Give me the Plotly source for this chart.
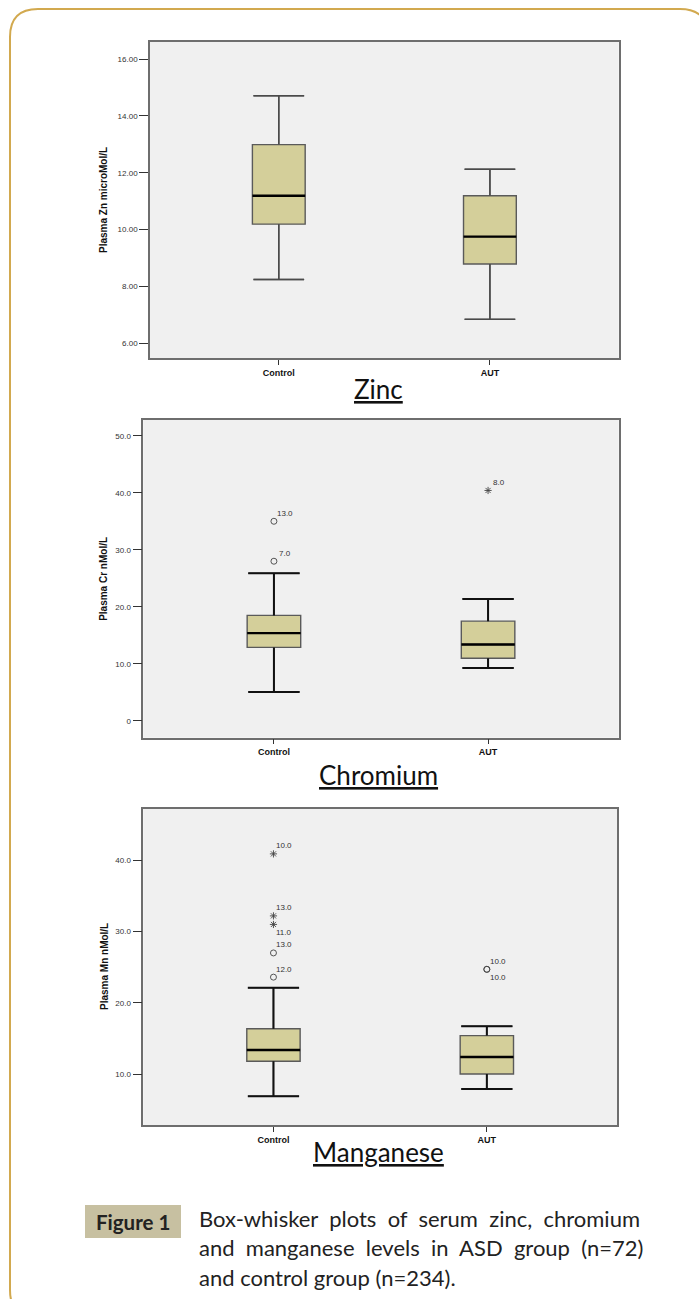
import plotly.graph_objects as go

W, H = 699, 1299

groups = ["Control", "AUT"]

# Zinc (microMol/L)
zn_q1 = [10.19, 8.79]
zn_median = [11.19, 9.75]
zn_q3 = [12.99, 11.19]
zn_low = [8.24, 6.84]
zn_high = [14.71, 12.12]
zn_ticks = [6, 8, 10, 12, 14, 16]
zn_ticktext = ["6.00", "8.00", "10.00", "12.00", "14.00", "16.00"]

# Chromium (nMol/L)
cr_q1 = [12.9, 11.0]
cr_median = [15.4, 13.4]
cr_q3 = [18.5, 17.5]
cr_low = [5.1, 9.3]
cr_high = [25.9, 21.4]
cr_out_group = ["Control", "Control", "AUT"]
cr_out_value = [35.0, 28.0, 40.4]
cr_out_label = ["13.0", "7.0", "8.0"]
cr_out_kind = ["circle", "circle", "star"]
cr_ticks = [0, 10, 20, 30, 40, 50]
cr_ticktext = ["0", "10.0", "20.0", "30.0", "40.0", "50.0"]

# Manganese (nMol/L)
mn_q1 = [11.8, 10.0]
mn_median = [13.37, 12.4]
mn_q3 = [16.35, 15.4]
mn_low = [6.9, 7.9]
mn_high = [22.1, 16.7]
mn_out_group = ["Control", "Control", "Control", "Control", "Control", "AUT", "AUT"]
mn_out_value = [40.9, 32.2, 31.0, 27.0, 23.6, 24.7, 24.7]
mn_out_label = ["10.0", "13.0", "11.0", "13.0", "12.0", "10.0", "10.0"]
mn_out_kind = ["star", "star", "star", "circle", "circle", "circle", "circle"]
mn_ticks = [10, 20, 30, 40]
mn_ticktext = ["10.0", "20.0", "30.0", "40.0"]

caption_label = "Figure 1"
caption_lines = ["Box-whisker plots of serum zinc, chromium",
                 "and manganese levels in ASD group (n=72)",
                 "and control group (n=234)."]

# ---------------- styling / layout ----------------
BOX_W = 0.25
CAP_W = 0.12
FILL = "#D4CF9A"
FRAME = "#6e6e6e"


def px_x(p):
    return p / W


def px_y(p):
    return 1 - p / H


panels = [
    dict(name="Zn", title="Plasma Zn microMol/L", label="Zinc",
         q1=zn_q1, med=zn_median, q3=zn_q3, lo=zn_low, hi=zn_high,
         og=[], ov=[], ol=[], ok=[], opos=[],
         ticks=zn_ticks, ticktext=zn_ticktext, yr=[5.48, 16.6],
         xd=[150, 618.7], yd=[42, 358], wcol="#4a4a4a", wwid=1.5,
         label_y=389),
    dict(name="Cr", title="Plasma Cr nMol/L", label="Chromium",
         q1=cr_q1, med=cr_median, q3=cr_q3, lo=cr_low, hi=cr_high,
         og=cr_out_group, ov=cr_out_value, ol=cr_out_label, ok=cr_out_kind,
         opos=["top", "top", "top"],
         ticks=cr_ticks, ticktext=cr_ticktext, yr=[-2.93, 52.75],
         xd=[143.3, 618.7], yd=[420, 737.7], wcol="#111111", wwid=2,
         label_y=775),
    dict(name="Mn", title="Plasma Mn nMol/L", label="Manganese",
         q1=mn_q1, med=mn_median, q3=mn_q3, lo=mn_low, hi=mn_high,
         og=mn_out_group, ov=mn_out_value, ol=mn_out_label, ok=mn_out_kind,
         opos=["top", "top", "bottom", "top", "top", "top", "bottom"],
         ticks=mn_ticks, ticktext=mn_ticktext, yr=[2.85, 47.2],
         xd=[143.3, 617], yd=[809, 1125], wcol="#111111", wwid=2,
         label_y=1152),
]

fig = go.Figure()
layout = dict(width=W, height=H, margin=dict(l=0, r=0, t=0, b=0),
              paper_bgcolor="white", plot_bgcolor="#F0F0F0", showlegend=False,
              font=dict(family="Liberation Sans, Arial, sans-serif", color="#222"))
annotations = []
shapes = []

for i, p in enumerate(panels, start=1):
    xa, ya = f"x{i}", f"y{i}"
    xs = list(range(len(groups)))
    fig.add_trace(go.Box(
        x=xs, q1=p["q1"], median=p["med"], q3=p["q3"],
        lowerfence=p["lo"], upperfence=p["hi"],
        width=BOX_W, whiskerwidth=2 * CAP_W / BOX_W, fillcolor=FILL,
        line=dict(color="#5a5a5a", width=1.4), boxpoints=False,
        xaxis=xa, yaxis=ya, hoverinfo="skip"))
    # whiskers overlay
    wx, wy = [], []
    for k in xs:
        wx += [k, k, None, k, k, None,
               k - CAP_W, k + CAP_W, None, k - CAP_W, k + CAP_W, None]
        wy += [p["q3"][k], p["hi"][k], None, p["q1"][k], p["lo"][k], None,
               p["hi"][k], p["hi"][k], None, p["lo"][k], p["lo"][k], None]
    fig.add_trace(go.Scatter(x=wx, y=wy, mode="lines",
                             line=dict(color=p["wcol"], width=p["wwid"]),
                             xaxis=xa, yaxis=ya, hoverinfo="skip"))
    # medians
    mx, my = [], []
    for k in xs:
        mx += [k - BOX_W / 2, k + BOX_W / 2, None]
        my += [p["med"][k], p["med"][k], None]
    fig.add_trace(go.Scatter(x=mx, y=my, mode="lines",
                             line=dict(color="#000000", width=2.4),
                             xaxis=xa, yaxis=ya, hoverinfo="skip"))
    # outliers
    for kind, sym, size in [("circle", "circle-open", 6), ("star", "asterisk-open", 6)]:
        idx = [j for j, kk in enumerate(p["ok"]) if kk == kind]
        if idx:
            fig.add_trace(go.Scatter(
                x=[groups.index(p["og"][j]) for j in idx],
                y=[p["ov"][j] for j in idx], mode="markers",
                marker=dict(symbol=sym, size=size, color="#444",
                            line=dict(width=0.9, color="#444")),
                xaxis=xa, yaxis=ya, hoverinfo="skip"))
    for g, v, lab, pos in zip(p["og"], p["ov"], p["ol"], p["opos"]):
        annotations.append(dict(
            x=groups.index(g), y=v, xref=xa, yref=ya, text=lab, showarrow=False,
            xshift=11, yshift=8 if pos == "top" else -8,
            font=dict(size=8, color="#333"), xanchor="center", yanchor="middle"))

    layout[f"xaxis{i}"] = dict(
        domain=[px_x(p["xd"][0]), px_x(p["xd"][1])], range=[-0.61, 1.61],
        anchor=ya, tickvals=xs, ticktext=[f"<b>{g}</b>" for g in groups],
        ticks="outside", ticklen=5, tickcolor="#333", tickwidth=1,
        tickfont=dict(size=9, color="#111"),
        showline=True, mirror=True, linecolor=FRAME, linewidth=1.5,
        showgrid=False, zeroline=False, fixedrange=True)
    layout[f"yaxis{i}"] = dict(
        domain=[px_y(p["yd"][1]), px_y(p["yd"][0])], range=p["yr"],
        anchor=xa, tickvals=p["ticks"], ticktext=p["ticktext"],
        ticks="outside", ticklen=9, tickcolor="#333", tickwidth=1,
        tickfont=dict(size=8, color="#333"),
        showline=True, mirror=True, linecolor=FRAME, linewidth=1.5,
        showgrid=False, zeroline=False, fixedrange=True)
    # y-axis title
    annotations.append(dict(
        x=px_x(104), y=px_y((p["yd"][0] + p["yd"][1]) / 2), xref="paper", yref="paper",
        text=f"<b>{p['title']}</b>", textangle=-90, showarrow=False,
        font=dict(size=10, color="#111"), xanchor="center", yanchor="middle"))
    # panel label
    annotations.append(dict(
        x=px_x(378), y=px_y(p["label_y"]), xref="paper", yref="paper",
        text=f"<u>{p['label']}</u>", showarrow=False,
        font=dict(family="Lato, sans-serif", size=26, color="#111"),
        xanchor="center", yanchor="middle"))

# caption
shapes.append(dict(type="rect", xref="paper", yref="paper",
                   x0=px_x(85), x1=px_x(181), y0=px_y(1238), y1=px_y(1205),
                   fillcolor="#C7C0A1", line=dict(width=0), layer="below"))
annotations.append(dict(x=px_x(133), y=px_y(1221.5), xref="paper", yref="paper",
                        text=f"<b>{caption_label}</b>", showarrow=False,
                        font=dict(family="Lato, sans-serif", size=20.5, color="#222"),
                        xanchor="center", yanchor="middle"))
for j, line in enumerate(caption_lines):
    # lines 1-2 are justified in the original: widen word gaps
    txt = line.replace(" ", "&nbsp; ") if j < len(caption_lines) - 1 else line
    annotations.append(dict(x=px_x(197), y=px_y(1218 + 29.5 * j), xref="paper", yref="paper",
                            text=txt, showarrow=False,
                            font=dict(family="Lato, sans-serif", size=22, color="#222"),
                            xanchor="left", yanchor="middle"))


# rounded gold border
def P(x, y):
    return f"{px_x(x):.5f},{px_y(y):.5f}"


path = (f"M {P(38, 1318)} Q {P(10, 1318)} {P(10, 1290)} L {P(10, 37)} "
        f"Q {P(10, 9)} {P(38, 9)} L {P(680, 9)} Q {P(708, 9)} {P(708, 37)}")
shapes.append(dict(type="path", xref="paper", yref="paper", path=path,
                   line=dict(color="#D2A94F", width=2)))

layout["annotations"] = annotations
layout["shapes"] = shapes
fig.update_layout(**layout)

fig.write_html("out.html", config={"displayModeBar": False},
               post_script="document.body.style.margin='0';")
